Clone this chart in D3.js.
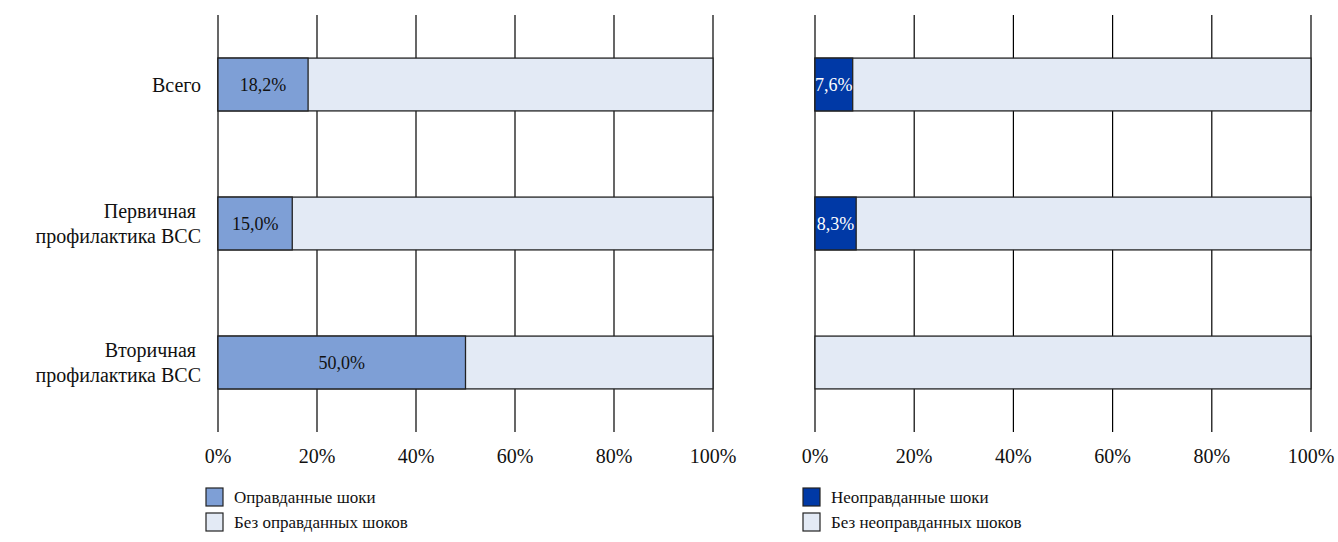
<!DOCTYPE html>
<html>
<head>
<meta charset="utf-8">
<script src="https://cdn.jsdelivr.net/npm/d3@7"></script>
<style>
  html, body { margin: 0; padding: 0; background: #fff; }
  svg text { font-family: "Liberation Serif", "Times New Roman", serif; }
</style>
</head>
<body>
<svg id="chart" width="1338" height="542"></svg>
<script>
// Categories (two-line labels split by "\n")
const categories = ["Всего", "Первичная \nпрофилактика ВСС", "Вторичная \nпрофилактика ВСС"];

// Share of patients with justified shocks, %
const justified = [18.2, 15.0, 50.0];
// Share of patients with unjustified shocks, %
const unjustified = [7.6, 8.3, 0];

const tickValues = [0, 20, 40, 60, 80, 100];
const tickLabels = ["0%", "20%", "40%", "60%", "80%", "100%"];

const legendLeft = ["Оправданные шоки", "Без оправданных шоков"];
const legendRight = ["Неоправданные шоки", "Без неоправданных шоков"];

const colJust = "#7e9fd6";
const colUnjust = "#0039a6";
const colRest = "#e3eaf5";
const FONT = '"Liberation Serif", "Times New Roman", serif';

const svg = d3.select("#chart");
const fmt = v => d3.format(".1f")(v).replace(".", ",") + "%";

const y = d3.scaleBand().domain(categories).range([15, 432]).paddingInner(0.62).paddingOuter(0.31);

function panel(x0, x1, values, color, labelColor, legend) {
  const x = d3.scaleLinear().domain([0, 100]).range([x0, x1]);
  const g = svg.append("g");

  // vertical gridlines
  g.selectAll("line.grid").data(tickValues).join("line")
    .attr("class", "grid")
    .attr("x1", d => x(d)).attr("x2", d => x(d))
    .attr("y1", 15).attr("y2", 432)
    .attr("stroke", "#000").attr("stroke-width", 1.2);

  // remainder bars (full width, drawn first)
  g.selectAll("rect.rest").data(categories).join("rect")
    .attr("class", "rest")
    .attr("x", x(0)).attr("width", x(100) - x(0))
    .attr("y", d => y(d)).attr("height", y.bandwidth())
    .attr("fill", colRest).attr("stroke", "#222").attr("stroke-width", 1.3);

  // value bars
  const vals = categories.map((c, i) => ({ c, v: values[i] })).filter(d => d.v > 0);
  g.selectAll("rect.val").data(vals).join("rect")
    .attr("class", "val")
    .attr("x", x(0)).attr("width", d => x(d.v) - x(0))
    .attr("y", d => y(d.c)).attr("height", y.bandwidth())
    .attr("fill", color).attr("stroke", "#222").attr("stroke-width", 1.3);

  g.selectAll("text.val").data(vals).join("text")
    .attr("class", "val")
    .attr("x", d => (x(0) + x(d.v)) / 2)
    .attr("y", d => y(d.c) + y.bandwidth() / 2)
    .attr("dy", "0.35em")
    .attr("text-anchor", "middle")
    .style("font-family", FONT)
    .style("font-size", "18px")
    .attr("fill", labelColor)
    .text(d => fmt(d.v));

  // tick labels
  g.selectAll("text.tick").data(tickValues).join("text")
    .attr("class", "tick")
    .attr("x", d => x(d)).attr("y", 463)
    .attr("text-anchor", "middle")
    .style("font-family", FONT)
    .style("font-size", "20px")
    .attr("fill", "#111")
    .text((d, i) => tickLabels[i]);

  // legend
  const lg = g.append("g").attr("transform", `translate(${x0 - 12},0)`);
  [color, colRest].forEach((c, i) => {
    lg.append("rect").attr("x", 0).attr("y", 488 + i * 25).attr("width", 17).attr("height", 18)
      .attr("fill", c).attr("stroke", "#222").attr("stroke-width", 1.2);
    lg.append("text").attr("x", 28).attr("y", 497 + i * 25).attr("dy", "0.35em")
      .style("font-family", FONT)
      .style("font-size", "17px")
      .attr("fill", "#111").text(legend[i]);
  });
  return x;
}

panel(218, 713, justified, colJust, "#111", legendLeft);
panel(815, 1311, unjustified, colUnjust, "#fff", legendRight);

// category labels
const cl = svg.append("g");
categories.forEach(c => {
  const lines = c.split("\n");
  const cy = y(c) + y.bandwidth() / 2;
  const lh = 25;
  lines.forEach((t, i) => {
    cl.append("text")
      .attr("x", 201)
      .attr("y", cy + (i - (lines.length - 1) / 2) * lh)
      .attr("dy", "0.35em")
      .attr("text-anchor", "end")
      .style("font-family", FONT)
      .style("font-size", "20px")
      .style("white-space", "pre")
      .attr("fill", "#111")
      .text(t);
  });
});
</script>
</body>
</html>
